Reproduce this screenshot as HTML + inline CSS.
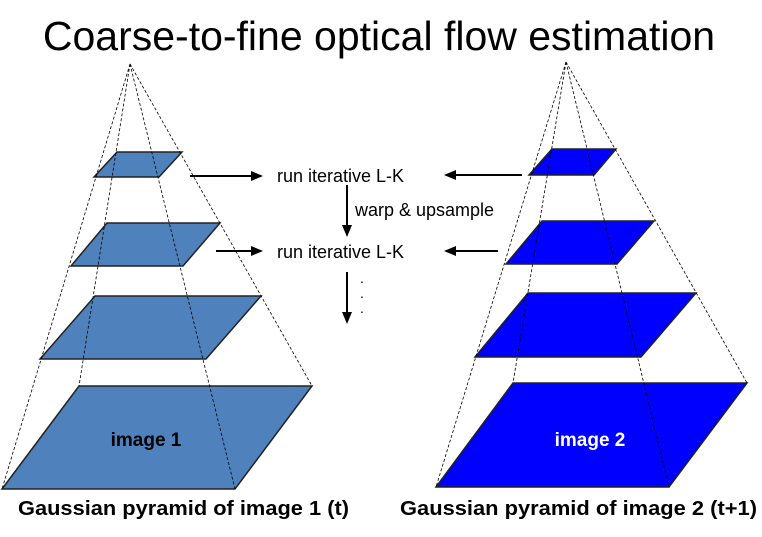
<!DOCTYPE html>
<html><head><meta charset="utf-8"><style>
body{margin:0;background:#fff;}
svg{display:block;font-family:"Liberation Sans",sans-serif;}
</style></head><body>
<svg width="762" height="537" viewBox="0 0 762 537">
<defs><marker id="ah" markerWidth="6" markerHeight="6" refX="5" refY="3" orient="auto" markerUnits="strokeWidth"><path d="M0,0.5 L6,3 L0,5.5 z" fill="#000"/></marker></defs>
<text x="379" y="50" font-size="41" text-anchor="middle" fill="#000">Coarse-to-fine optical flow estimation</text>
<g id="left"></g>
<g id="right"></g>
<g stroke="#000" stroke-width="2" fill="none">
<line x1="190" y1="176" x2="261" y2="176" marker-end="url(#ah)"/>
<line x1="216" y1="251" x2="261" y2="251" marker-end="url(#ah)"/>
<line x1="522" y1="175" x2="446" y2="175" marker-end="url(#ah)"/>
<line x1="498" y1="251" x2="446" y2="251" marker-end="url(#ah)"/>
<line x1="347" y1="185" x2="347" y2="235" marker-end="url(#ah)"/>
<line x1="347" y1="272" x2="347" y2="322" marker-end="url(#ah)"/>
</g>
<text x="277" y="182" font-size="18">run iterative L-K</text>
<text x="277" y="258" font-size="18">run iterative L-K</text>
<text x="355" y="216" font-size="18">warp &amp; upsample</text>
<text x="360" y="283" font-size="14">.</text>
<text x="360" y="298" font-size="14">.</text>
<text x="360" y="313" font-size="14">.</text>
<text x="146" y="446" font-size="19" font-weight="bold" text-anchor="middle">image 1</text>
<text x="590" y="446" font-size="19" font-weight="bold" text-anchor="middle" fill="#fff">image 2</text>
<text x="18" y="515" font-size="20" font-weight="bold" textLength="331" lengthAdjust="spacingAndGlyphs">Gaussian pyramid of image 1 (t)</text>
<text x="400" y="515" font-size="20" font-weight="bold" textLength="357" lengthAdjust="spacingAndGlyphs">Gaussian pyramid of image 2 (t+1)</text>
</svg>
<script>
const leftLayers=[[117,182,152,94,159,177],[107,220,223,71,183,266],[95,261,296,40,206,359],[79,312,386,2,235,489]];
const rightLayers=[[552,616,149,529,594,175],[542,654,221,506,617,264],[528,696,293,475,641,357],[513,747,383,436,669,487]];
const NS='http://www.w3.org/2000/svg';
function draw(gid,layers,apex,color){
  const g=document.getElementById(gid);
  layers.forEach((l,i)=>{
    const p=document.createElementNS(NS,'polygon');
    p.setAttribute('points',`${l[0]},${l[2]} ${l[1]},${l[2]} ${l[4]},${l[5]} ${l[3]},${l[5]}`);
    p.setAttribute('fill',color);p.setAttribute('stroke','#222');p.setAttribute('stroke-width','1.5');
    
    
    g.appendChild(p);
  });
  const b=layers[layers.length-1];
  [[b[0],b[2]],[b[1],b[2]],[b[3],b[5]],[b[4],b[5]]].forEach(c=>{
    const ln=document.createElementNS(NS,'line');
    ln.setAttribute('x1',apex[0]);ln.setAttribute('y1',apex[1]);
    ln.setAttribute('x2',c[0]);ln.setAttribute('y2',c[1]);
    ln.setAttribute('stroke','#000');ln.setAttribute('stroke-width','0.8');ln.setAttribute('stroke-dasharray','3,2');
    
    
    g.appendChild(ln);
  });
}
draw('left',leftLayers,[130,64],'#4f81bd');
draw('right',rightLayers,[566,62],'#0000ff');
</script>
</body></html>
